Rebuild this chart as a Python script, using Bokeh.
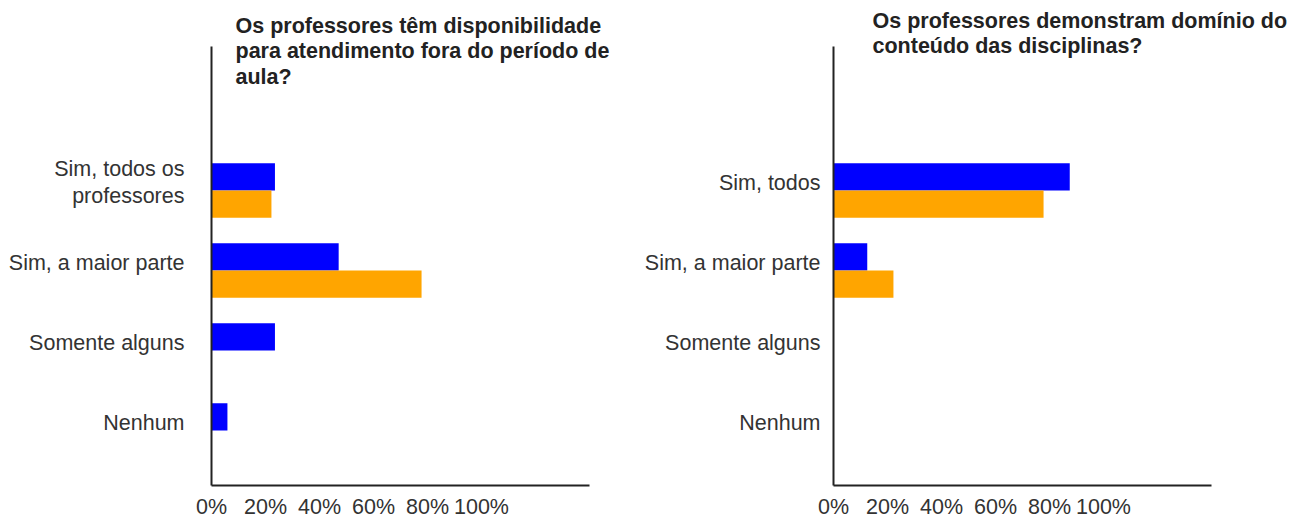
from bokeh.plotting import figure
from bokeh.layouts import row
from bokeh.models import Range1d, FixedTicker, Label
from bokeh.embed import file_html
from bokeh.resources import INLINE

# ---------------- data ----------------
left_title = "Os professores têm disponibilidade\npara atendimento fora do período de\naula?"
left_labels = ["Sim, todos os\nprofessores", "Sim, a maior parte", "Somente alguns", "Nenhum"]
left_blue = [23.5, 47.1, 23.5, 5.9]
left_orange = [22.2, 77.8, 0.0, 0.0]

right_title = "Os professores demonstram domínio do\nconteúdo das disciplinas?"
right_labels = ["Sim, todos", "Sim, a maior parte", "Somente alguns", "Nenhum"]
right_blue = [87.5, 12.5, 0.0, 0.0]
right_orange = [77.8, 22.2, 0.0, 0.0]

x_ticks = [0, 20, 40, 60, 80, 100]
x_tick_labels = ["0%", "20%", "40%", "60%", "80%", "100%"]

BLUE = "#0000FF"
ORANGE = "#FFA500"
TEXT = "#333333"
FONT = "Liberation Sans"

# ---------------- layout constants (pixels) ----------------
PX_PER_PCT = 2.70
CAT_PX = 80.0          # spacing between categories
FIRST_CAT_PX = 190.0   # y of first category centre, relative to canvas top
FRAME_H = 485
AXIS_TOP_PX = 46       # relative to canvas top
BAR_H = 0.34
LABEL_SHIFT = 0.1      # labels sit slightly above category centre


def make(labels, blue, orange, title, border_left, frame_w, axis_len_px, standoff,
         title_x_px, title_y_px):
    n = len(labels)
    idx = list(range(n))
    x_end = frame_w / PX_PER_PCT
    y_top = (0 - FIRST_CAT_PX) / CAT_PX
    y_bot = (FRAME_H - FIRST_CAT_PX) / CAT_PX
    p = figure(frame_width=frame_w, frame_height=FRAME_H,
               x_range=Range1d(0, x_end), y_range=Range1d(y_bot, y_top),
               output_backend="svg", toolbar_location=None,
               min_border_left=border_left, min_border_right=0,
               min_border_top=0, min_border_bottom=32)
    p.outline_line_color = None
    p.grid.visible = False
    p.background_fill_color = "white"
    p.border_fill_color = "white"

    p.hbar(y=[i - BAR_H / 2 for i in idx], left=0, right=blue, height=BAR_H,
           fill_color=BLUE, line_color=None)
    p.hbar(y=[i + BAR_H / 2 for i in idx], left=0, right=orange, height=BAR_H,
           fill_color=ORANGE, line_color=None)

    # axes
    for ax in (p.xaxis[0], p.yaxis[0]):
        ax.axis_line_color = "#222222"
        ax.axis_line_width = 2
        ax.major_tick_line_color = None
        ax.minor_tick_line_color = None
        ax.major_label_text_font = FONT
        ax.major_label_text_font_size = "21.5px"
        ax.major_label_text_color = TEXT

    p.xaxis.bounds = (0, axis_len_px / PX_PER_PCT)
    p.xaxis.ticker = FixedTicker(ticks=x_ticks)
    p.xaxis.major_label_overrides = {t: l for t, l in zip(x_ticks, x_tick_labels)}
    p.xaxis.major_label_standoff = 3

    tick_pos = [i - LABEL_SHIFT for i in idx]
    p.yaxis.bounds = ((AXIS_TOP_PX - FIRST_CAT_PX) / CAT_PX, y_bot)
    p.yaxis.ticker = FixedTicker(ticks=tick_pos)
    p.yaxis.major_label_overrides = {t: l for t, l in zip(tick_pos, labels)}
    p.yaxis.major_label_standoff = standoff
    p.yaxis.major_label_text_line_height = 1.1

    p.add_layout(Label(x=title_x_px / PX_PER_PCT,
                       y=(title_y_px - FIRST_CAT_PX) / CAT_PX,
                       text=title, text_font=FONT, text_font_size="21.5px",
                       text_font_style="bold", text_color="#222222",
                       text_baseline="top", text_align="left",
                       text_line_height=1.08))
    return p


p1 = make(left_labels, left_blue, left_orange, left_title,
          border_left=211, frame_w=430, axis_len_px=378, standoff=21,
          title_x_px=24, title_y_px=13)
p2 = make(right_labels, right_blue, right_orange, right_title,
          border_left=187, frame_w=465, axis_len_px=378, standoff=7,
          title_x_px=39, title_y_px=8)

layout = row(p1, p2)
open("out.html", "w").write(file_html(layout, INLINE))
